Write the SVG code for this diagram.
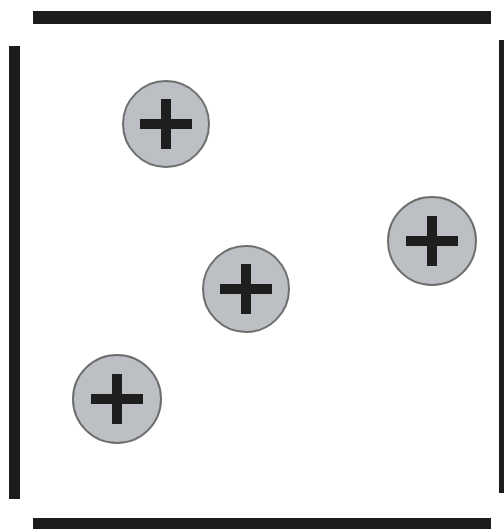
<svg xmlns="http://www.w3.org/2000/svg" width="504" height="529" viewBox="0 0 504 529">
<defs>
<style>
.bar{fill:#1c1c1c}
.ball{fill:#bcc0c4;stroke:#6e6e6e;stroke-width:2}
.plus{fill:#1e1e1e}
</style>
<g id="plus">
<rect class="plus" x="-26" y="-5" width="52" height="10"/>
<rect class="plus" x="-5" y="-25" width="10" height="50"/>
</g>
</defs>
<rect width="504" height="529" fill="#ffffff"/>
<g id="plates">
<rect class="bar" x="33" y="11" width="458" height="13"/>
<rect class="bar" x="33" y="518" width="458" height="11"/>
<rect class="bar" x="9" y="46" width="11" height="453"/>
<rect class="bar" x="499" y="40" width="5" height="453"/>
</g>
<g id="charge1"><circle class="ball" cx="166" cy="124" r="43"/><use href="#plus" x="166" y="124"/></g>
<g id="charge2"><circle class="ball" cx="432" cy="241" r="44"/><use href="#plus" x="432" y="241"/></g>
<g id="charge3"><circle class="ball" cx="246" cy="289" r="43"/><use href="#plus" x="246" y="289"/></g>
<g id="charge4"><circle class="ball" cx="117" cy="399" r="44"/><use href="#plus" x="117" y="399"/></g>
</svg>
